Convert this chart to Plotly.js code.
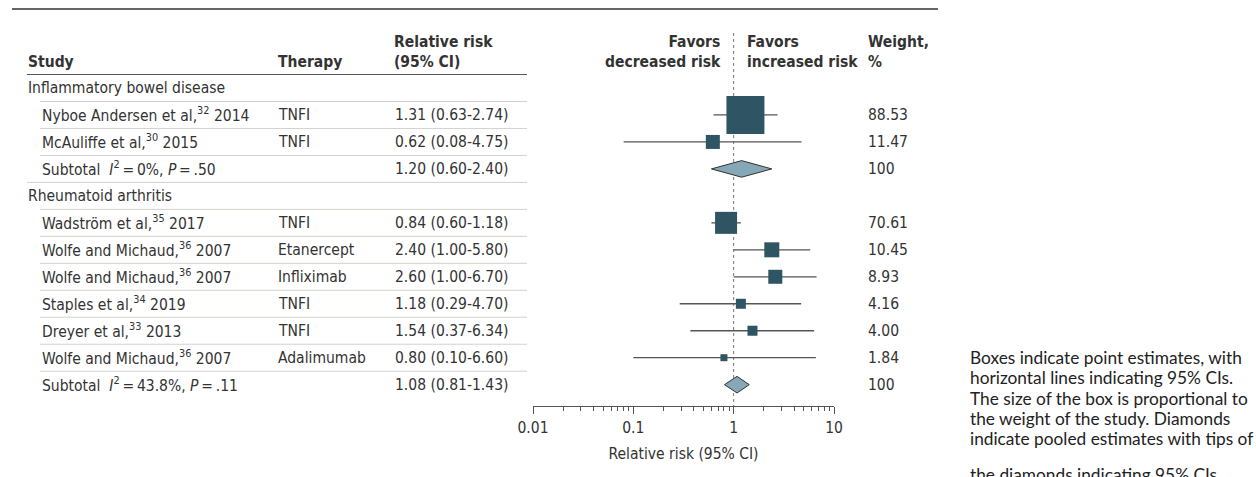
<!DOCTYPE html>
<html>
<head>
<meta charset="utf-8">
<script src="https://cdn.plot.ly/plotly-3.0.1.min.js"></script>
<style>html,body{margin:0;padding:0;background:#fff;}#chart{width:1256px;height:477px;}</style>
</head>
<body>
<div id="chart"></div>
<script>
// ---------------- DATA ----------------
const groupNames = ["Inflammatory bowel disease", "Rheumatoid arthritis"];
const studyLabels = [
  "Nyboe Andersen et al,<sup>32</sup> 2014",
  "McAuliffe et al,<sup>30</sup> 2015",
  "Wadström et al,<sup>35</sup> 2017",
  "Wolfe and Michaud,<sup>36</sup> 2007",
  "Wolfe and Michaud,<sup>36</sup> 2007",
  "Staples et al,<sup>34</sup> 2019",
  "Dreyer et al,<sup>33</sup> 2013",
  "Wolfe and Michaud,<sup>36</sup> 2007"
];
const studyGroup = [0, 0, 1, 1, 1, 1, 1, 1];
const therapies = ["TNFI", "TNFI", "TNFI", "Etanercept", "Infliximab", "TNFI", "TNFI", "Adalimumab"];
const relRisk = [1.31, 0.62, 0.84, 2.40, 2.60, 1.18, 1.54, 0.80];
const ciLow   = [0.63, 0.08, 0.60, 1.00, 1.00, 0.29, 0.37, 0.10];
const ciHigh  = [2.74, 4.75, 1.18, 5.80, 6.70, 4.70, 6.34, 6.60];
const weights = [88.53, 11.47, 70.61, 10.45, 8.93, 4.16, 4.00, 1.84];

const subtotalLabels = [
  "Subtotal\u00a0\u00a0<i>I</i><sup>2</sup>\u2009=\u20090%, <i>P</i>\u2009=\u2009.50",
  "Subtotal\u00a0\u00a0<i>I</i><sup>2</sup>\u2009=\u200943.8%, <i>P</i>\u2009=\u2009.11"
];
const subRR   = [1.20, 1.08];
const subLow  = [0.60, 0.81];
const subHigh = [2.40, 1.43];
const subWeight = [100, 100];

const xTickVals = [0.01, 0.1, 1, 10];
const xTickText = ["0.01", "0.1", "1", "10"];
const noteLines = [
  "Boxes indicate point estimates, with",
  "horizontal lines indicating 95% CIs.",
  "The size of the box is proportional to",
  "the weight of the study. Diamonds",
  "indicate pooled estimates with tips of",
  "the diamonds indicating 95% CIs."
];

// ---------------- STYLE / LAYOUT ----------------
const boxPx = [38, 14, 22, 15, 14, 10, 10, 7];   // drawn box sizes (style)
const notePy = [357, 377.5, 398, 418.5, 438.5, 474]; // note line centers (layout)
const FONT = "DejaVu Sans Condensed, DejaVu Sans, sans-serif";
const FS = 15.5;
const TXT = "#333333";
const L = 533, W = 301;
const ROW0 = 88, ROWH = 26.97;
const TOP = 9, BOT = 406;
const PH = BOT - TOP;
const px2p = px => (px - L) / W;
const py2i = py => (py - ROW0) / ROWH;
const py2p = py => (BOT - py) / PH;

const rows = [];
groupNames.forEach((g, gi) => {
  rows.push({type: "group", gi});
  studyGroup.forEach((sg, si) => { if (sg === gi) rows.push({type: "study", si}); });
  rows.push({type: "sub", gi});
});

const fmt = (r, l, h) => `${r.toFixed(2)} (${l.toFixed(2)}-${h.toFixed(2)})`;

const annotations = [];
const shapes = [];
function txt(px, y, text, opts = {}) {
  annotations.push(Object.assign({
    xref: "paper", yref: "y", x: px2p(px), y: y, text: text, showarrow: false,
    xanchor: "left", yanchor: "middle", align: "left",
    font: {family: FONT, size: FS, color: TXT}, borderpad: 0
  }, opts));
}

const studyY = [], subY = [];
rows.forEach((r, i) => {
  if (r.type === "group") {
    txt(27, i, groupNames[r.gi]);
  } else if (r.type === "study") {
    studyY[r.si] = i;
    txt(41, i, studyLabels[r.si]);
    txt(277, i, therapies[r.si]);
    txt(394, i, fmt(relRisk[r.si], ciLow[r.si], ciHigh[r.si]));
    txt(867, i, weights[r.si].toFixed(2));
  } else {
    subY[r.gi] = i;
    txt(41, i, subtotalLabels[r.gi]);
    txt(394, i, fmt(subRR[r.gi], subLow[r.gi], subHigh[r.gi]));
    txt(867, i, String(subWeight[r.gi]));
  }
  if (i < rows.length - 1) {
    const next = rows[i + 1];
    const x0 = next.type === "group" ? 27 : 40;
    shapes.push({type: "line", xref: "paper", yref: "y", x0: px2p(x0), x1: px2p(527),
      y0: i + 0.5, y1: i + 0.5, line: {color: "#d2d2cc", width: 1}});
  }
});

const bold = s => "<b>" + s + "</b>";
const hy1 = py2i(62), hy2 = py2i(52);
txt(27, hy1, bold("Study"));
txt(277, hy1, bold("Therapy"));
txt(393, hy2, bold("Relative risk<br>(95% CI)"));
txt(722, hy2, bold("Favors<br>decreased risk"), {xanchor: "right", align: "right"});
txt(746, hy2, bold("Favors<br>increased risk"));
txt(867, hy2, bold("Weight,<br>%"));

noteLines.forEach((s, k) => {
  annotations.push({xref: "paper", yref: "paper", x: px2p(969), y: py2p(notePy[k]),
    yanchor: "middle", xanchor: "left", align: "left", showarrow: false, text: s,
    font: {family: "Lato, sans-serif", size: 17.3, color: "#222"}, borderpad: 0});
});

shapes.push({type: "line", xref: "paper", yref: "paper", x0: px2p(12), x1: px2p(938), y0: 1, y1: 1,
  line: {color: "#666", width: 2}});
shapes.push({type: "line", xref: "paper", yref: "y", x0: px2p(27), x1: px2p(527), y0: -0.5, y1: -0.5,
  line: {color: "#555", width: 1.2}});

const traces = [];
traces.push({x: [1, 1], y: [py2i(33), py2i(BOT)], mode: "lines", hoverinfo: "skip",
  line: {color: "#777", width: 1, dash: "dot"}});
traces.push({
  x: relRisk, y: studyY, mode: "markers", type: "scatter",
  marker: {symbol: "square", size: boxPx, color: "#2f5464", opacity: 1, line: {width: 0}},
  error_x: {type: "data", symmetric: false,
    array: ciHigh.map((h, k) => h - relRisk[k]),
    arrayminus: ciLow.map((l, k) => relRisk[k] - l),
    color: "#555", thickness: 1.3, width: 0}
});
const hh = 8.3 / ROWH;
subRR.forEach((r, k) => {
  const y = subY[k];
  traces.push({x: [subLow[k], r, subHigh[k], r, subLow[k]], y: [y, y - hh, y, y + hh, y],
    mode: "lines", fill: "toself", fillcolor: "#86a8b6", line: {color: "#333", width: 1}});
});

const minorVals = [];
[0.01, 0.1, 1].forEach(d => { for (let m = 2; m <= 9; m++) minorVals.push(+(d * m).toPrecision(3)); });

const layout = {
  width: 1256, height: 477, showlegend: false,
  margin: {l: L, r: 1256 - L - W, t: TOP, b: 477 - BOT},
  paper_bgcolor: "#fff", plot_bgcolor: "rgba(0,0,0,0)",
  xaxis: {type: "log", range: [-2, 1], tickmode: "array", tickvals: xTickVals, ticktext: xTickText,
    ticks: "outside", ticklen: 7, tickcolor: "#555", tickwidth: 1,
    showline: true, linecolor: "#555", linewidth: 1, showgrid: false, zeroline: false,
    tickfont: {family: FONT, size: 15.5, color: TXT},
    minor: {tickmode: "array", tickvals: minorVals, ticks: "outside", ticklen: 4, tickcolor: "#555", tickwidth: 1, showgrid: false},
    title: {text: "Relative risk (95% CI)", font: {family: FONT, size: 15.5, color: TXT}, standoff: 12},
    fixedrange: true},
  yaxis: {range: [py2i(BOT), py2i(TOP)], showgrid: false, zeroline: false, showticklabels: false,
    showline: false, ticks: "", fixedrange: true},
  annotations, shapes
};

Plotly.newPlot("chart", traces, layout, {displayModeBar: false, staticPlot: true});
</script>
</body>
</html>
